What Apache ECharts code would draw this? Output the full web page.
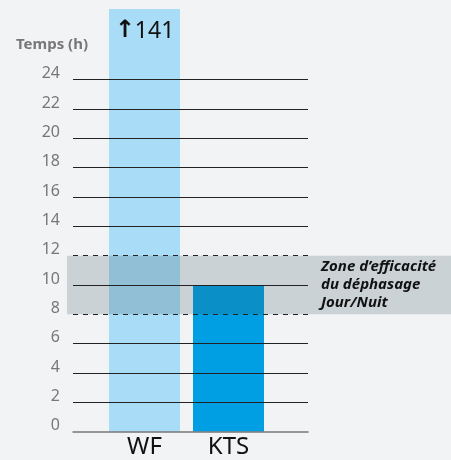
<!DOCTYPE html>
<html><head><meta charset="utf-8">
<script src="https://cdn.jsdelivr.net/npm/echarts@6/dist/echarts.min.js"></script>
<style>html,body{margin:0;padding:0;background:#f2f3f5}#c{width:451px;height:460px}</style>
</head><body><div id="c"></div>
<script>
var categories = ['WF', 'KTS'];
var values = [141, 10];
var tickValues = [0, 2, 4, 6, 8, 10, 12, 14, 16, 18, 20, 22, 24];
var zoneRange = [8, 12];
var zoneLabel = ['Zone d\u2019efficacité', 'du déphasage', 'Jour/Nuit'];
var axisName = 'Temps (h)';

var FONT = 'Noto Sans';
var yMax = 24, plotTop = 79.7, plotBottom = 460 - 431.7;
var barTop = 9;
var barMax = yMax * (460 - plotBottom - barTop) / (460 - plotBottom - plotTop);

var gridLines = tickValues.filter(function (v) { return v !== 0 && zoneRange.indexOf(v) < 0; })
  .map(function (v) { return { yAxis: v, lineStyle: { type: 'solid', color: '#222', width: 1 } }; });
var zoneLines = zoneRange.map(function (v) { return { yAxis: v, lineStyle: { type: [5, 5], color: '#222', width: 1 } }; });

var chart = echarts.init(document.getElementById('c'));
chart.setOption({
  backgroundColor: '#f2f3f5',
  animation: false,
  grid: [
    { left: 73, right: 451 - 308, top: plotTop, bottom: plotBottom },
    { left: 102.5, width: 168, top: barTop, bottom: plotBottom },
    { left: 67, right: 0, top: plotTop, bottom: plotBottom }
  ],
  xAxis: [
    { gridIndex: 0, type: 'value', min: 0, max: 1, z: 10,
      axisLine: { show: true, onZero: false, lineStyle: { color: '#777', width: 1.5 } },
      axisTick: { show: false }, axisLabel: { show: false }, splitLine: { show: false } },
    { gridIndex: 1, type: 'category', data: categories,
      axisLine: { show: false }, axisTick: { show: false },
      axisLabel: { color: '#111', fontSize: 24, fontFamily: FONT, margin: 3 } },
    { gridIndex: 2, type: 'value', min: 0, max: 1, show: false }
  ],
  yAxis: [
    { gridIndex: 0, type: 'value', min: 0, max: yMax, interval: 2,
      name: axisName, nameLocation: 'end', nameGap: 27,
      nameTextStyle: { color: '#777', fontWeight: 'bold', fontSize: 15, fontFamily: FONT, padding: [0, 42, 0, 0] },
      axisLine: { show: false }, axisTick: { show: false }, splitLine: { show: false },
      axisLabel: { color: '#777', fontSize: 16, fontFamily: FONT, margin: 13,
        verticalAlign: 'bottom', lineHeight: 12 } },
    { gridIndex: 1, type: 'value', min: 0, max: barMax, show: false, splitLine: { show: false } },
    { gridIndex: 2, type: 'value', min: 0, max: yMax, show: false, splitLine: { show: false } }
  ],
  series: [
    { type: 'bar', xAxisIndex: 1, yAxisIndex: 1, barWidth: 71, z: 2,
      data: values.map(function (v, i) {
        return { value: v, itemStyle: { color: i === 0 ? '#a9dcf7' : '#009fe3' },
          label: { show: i === 0 } };
      }),
      label: { position: 'insideTop', distance: 10,
        formatter: function (p) { return '{a|\u2191}{b|' + p.value + '}'; },
        rich: { a: { fontSize: 24, fontWeight: 'bold', color: '#111', fontFamily: 'DejaVu Sans' },
                b: { fontSize: 23, color: '#111', fontFamily: FONT } } } },
    { type: 'line', xAxisIndex: 2, yAxisIndex: 2, data: [], z: 3,
      markArea: { silent: true, z: 3,
        itemStyle: { color: 'rgba(50,78,85,0.2)' },
        label: { show: true, position: [254, '50%'], align: 'left', verticalAlign: 'middle',
          formatter: zoneLabel.join('\n'), color: '#111', fontSize: 15, fontWeight: 'bold',
          fontStyle: 'italic', fontFamily: FONT, lineHeight: 18 },
        data: [[{ yAxis: zoneRange[0] }, { yAxis: zoneRange[1] }]] } },
    { type: 'line', xAxisIndex: 0, yAxisIndex: 0, data: [], z: 5,
      markLine: { silent: true, symbol: 'none', label: { show: false }, z: 5,
        data: gridLines.concat(zoneLines) } }
  ]
});
</script></body></html>
